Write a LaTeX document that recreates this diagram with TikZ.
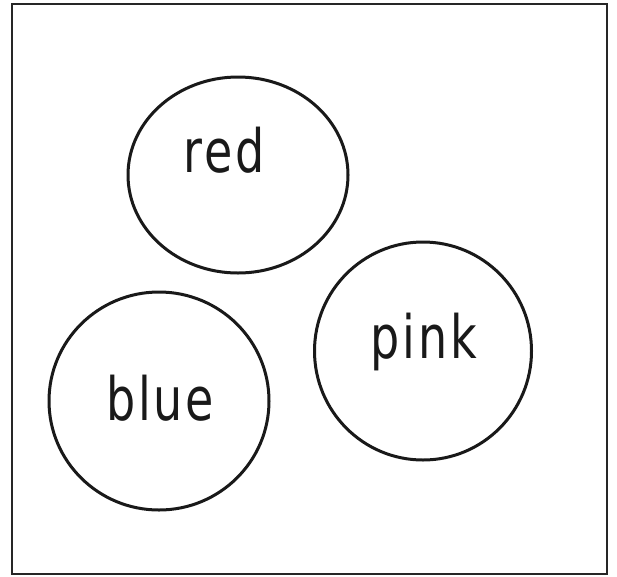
\documentclass[tikz,border=0pt]{standalone}
\usepackage{fontspec}
\setmainfont[LetterSpace=6]{DejaVu Sans}
\usetikzlibrary{shapes.geometric}
\tikzset{
  ring/.style={draw=black!90, line width=3pt, ellipse, inner sep=0pt},
  word/.style={anchor=base, inner sep=0pt, font=\fontsize{46}{50}\selectfont, text=black!90},
}
\newcommand{\tallword}[1]{\scalebox{1}[1.3]{#1}}
\begin{document}
\begin{tikzpicture}[x=1pt,y=-1pt]
\useasboundingbox (0,0) rectangle (617,576);
\draw[line width=2pt, draw=black!85] (12,4) rectangle (607,574);
\node[ring, minimum width=220pt, minimum height=196pt] (redc) at (238,175) {};
\node[ring, minimum width=220pt, minimum height=218pt] (bluec) at (159,401) {};
\node[ring, minimum width=217pt, minimum height=218pt] (pinkc) at (423,351) {};
\node[word] (redt) at (224,172) {\tallword{red}};
\node[word] (bluet) at (160,420) {\tallword{blue}};
\node[word] (pinkt) at (424,358) {\tallword{pink}};
\end{tikzpicture}
\end{document}
